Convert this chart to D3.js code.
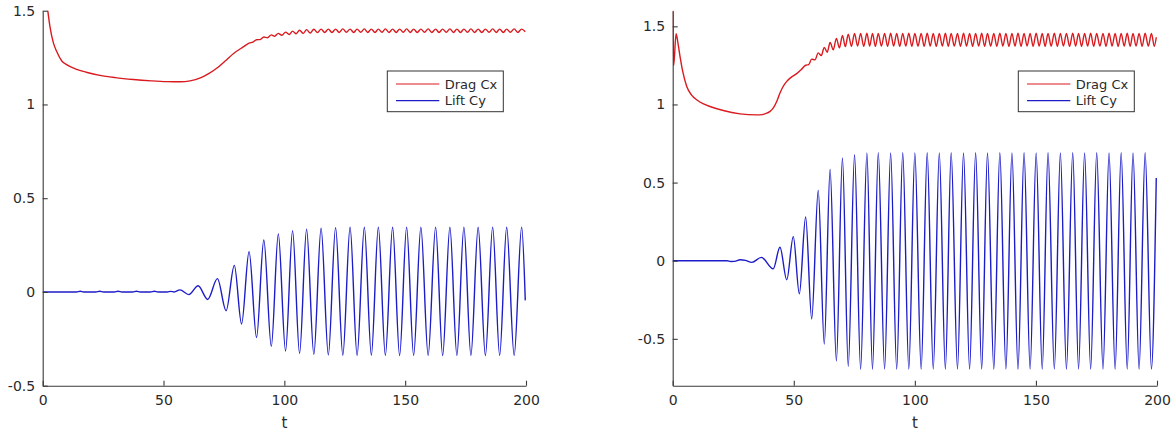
<!DOCTYPE html>
<html>
<head>
<meta charset="utf-8">
<script src="https://cdn.jsdelivr.net/npm/d3@7"></script>
<style>
  html, body { margin: 0; padding: 0; background: #fff; }
  svg { display: block; font-family: "DejaVu Sans", sans-serif; }
</style>
</head>
<body>
<svg id="chart" width="1172" height="433"></svg>
<script>
// Force coefficients over time for two flow cases: [t, value] samples at turning points.
const xTicks = [0, 50, 100, 150, 200];
const yTicks = [-0.5, 0, 0.5, 1, 1.5];
const legendLabels = ["Drag Cx", "Lift Cy"];

const dragLeft = [[0,1.85],[1.2,1.6],[2.1,1.5],[3,1.415],[4.4,1.33],[5.8,1.282],[7.9,1.232],[9.9,1.212],[14,1.187],[18,1.172],[23.7,1.155],[30,1.143],[37.5,1.133],[45,1.126],[51.3,1.122],[57,1.121],[61,1.126],[65,1.14],[68.5,1.163],[72,1.193],[75.5,1.232],[79,1.272],[83,1.307],[85.4,1.327],[87,1.333],[88.5,1.345],[90,1.346],[91.5,1.36],[93,1.356],[94.6,1.371],[96,1.364],[97.5,1.379],[99,1.369],[100.5,1.386],[102,1.373],[103.4,1.391],[104.9,1.377],[106.3,1.396],[107.8,1.379],[109.2,1.399],[110.7,1.381],[112.2,1.401],[113.7,1.383],[115.2,1.402],[116.7,1.384],[118.2,1.402],[119.7,1.384],[121.2,1.402],[122.7,1.384],[124.2,1.403],[125.7,1.385],[127.2,1.402],[128.7,1.384],[130.1,1.402],[131.6,1.385],[133.1,1.403],[134.5,1.384],[136.0,1.402],[137.5,1.384],[138.9,1.402],[140.4,1.385],[141.8,1.403],[143.3,1.384],[144.8,1.402],[146.3,1.384],[147.7,1.402],[149.2,1.385],[150.6,1.403],[152.1,1.384],[153.5,1.402],[155.0,1.384],[156.5,1.402],[158.0,1.385],[159.5,1.403],[161.0,1.384],[162.6,1.402],[164.0,1.384],[165.5,1.402],[167.0,1.385],[168.5,1.403],[170.0,1.384],[171.4,1.402],[172.9,1.384],[174.3,1.402],[175.8,1.385],[177.2,1.403],[178.7,1.384],[180.2,1.402],[181.7,1.384],[183.2,1.402],[184.7,1.385],[186.2,1.403],[187.7,1.384],[189.1,1.402],[190.6,1.384],[192.0,1.402],[193.5,1.385],[195.1,1.403],[196.6,1.384],[198.2,1.402],[199.7,1.388]];

const liftLeft = [[0,0],[14,0],[15.5,0.004],[17,0],[22,0],[23.6,0.004],[25.2,0],[29.6,0],[31.2,0.004],[32.8,0],[37.2,0],[38.8,0.004],[40.4,0],[44.6,0],[46.2,0.004],[47.8,0],[51.5,0],[53,0.003],[54.4,0],[56.8,0.011],[60.5,-0.014],[64.3,0.033],[68.3,-0.04],[72.3,0.071],[75.9,-0.1],[79.3,0.142],[82.3,-0.171],[85.4,0.215],[88.5,-0.243],[91.5,0.277],[94.6,-0.29],[97.5,0.309],[100.5,-0.315],[103.4,0.327],[106.3,-0.328],[109.2,0.335],[112.2,-0.333],[115.2,0.34],[118.2,-0.336],[121.2,0.343],[124.2,-0.337],[127.2,0.345],[130.1,-0.338],[133.1,0.345],[136.0,-0.337],[138.9,0.346],[141.8,-0.338],[144.8,0.345],[147.7,-0.339],[150.6,0.346],[153.5,-0.338],[156.5,0.345],[159.5,-0.338],[162.6,0.346],[165.5,-0.339],[168.5,0.345],[171.4,-0.338],[174.3,0.346],[177.2,-0.338],[180.2,0.345],[183.2,-0.339],[186.2,0.346],[189.1,-0.338],[192.0,0.345],[195.1,-0.338],[198.2,0.346],[199.7,-0.045]];

const dragRight = [[0,1.66],[0.4,1.25],[1.4,1.452],[2.2,1.39],[3,1.31],[4.3,1.2],[5.8,1.115],[7.8,1.06],[9.9,1.03],[12.5,1.005],[15.4,0.987],[20.9,0.961],[27.8,0.94],[34.7,0.933],[37,0.935],[38.8,0.944],[40.2,0.956],[41.5,0.976],[43,1.02],[44.3,1.073],[45.6,1.115],[47.1,1.148],[49,1.175],[51.2,1.197],[53,1.222],[54.9,1.251],[56.15,1.255],[57.4,1.29],[58.75,1.285],[60.1,1.33],[61.35,1.313],[62.6,1.365],[63.8,1.334],[65.0,1.397],[66.3,1.35],[67.6,1.423],[68.85,1.362],[70.1,1.442],[71.3,1.37],[72.5,1.45],[73.8,1.372],[75.1,1.455],[76.35,1.373],[77.6,1.455],[78.9,1.372],[80.2,1.456],[81.35,1.373],[82.5,1.455],[83.7,1.372],[84.9,1.455],[86.2,1.373],[87.5,1.455],[88.75,1.372],[90.0,1.456],[91.25,1.373],[92.5,1.455],[93.75,1.372],[95.0,1.455],[96.25,1.373],[97.5,1.456],[98.75,1.372],[100.0,1.455],[101.3,1.373],[102.6,1.455],[103.85,1.372],[105.1,1.456],[106.35,1.373],[107.6,1.455],[108.85,1.372],[110.1,1.455],[111.35,1.373],[112.6,1.456],[113.8,1.372],[115.0,1.455],[116.3,1.373],[117.6,1.455],[118.85,1.372],[120.1,1.456],[121.35,1.373],[122.6,1.455],[123.85,1.372],[125.1,1.455],[126.35,1.373],[127.6,1.456],[128.8,1.372],[130.0,1.455],[131.3,1.373],[132.6,1.455],[133.85,1.372],[135.1,1.456],[136.35,1.373],[137.6,1.455],[138.85,1.372],[140.1,1.455],[141.35,1.373],[142.6,1.456],[143.85,1.372],[145.1,1.455],[146.35,1.373],[147.6,1.455],[148.85,1.372],[150.1,1.456],[151.35,1.373],[152.6,1.455],[153.8,1.372],[155.0,1.455],[156.3,1.373],[157.6,1.456],[158.85,1.372],[160.1,1.455],[161.35,1.373],[162.6,1.455],[163.9,1.372],[165.2,1.456],[166.4,1.373],[167.6,1.455],[168.85,1.372],[170.1,1.455],[171.35,1.373],[172.6,1.456],[173.85,1.372],[175.1,1.455],[176.4,1.373],[177.7,1.455],[178.95,1.372],[180.2,1.456],[181.45,1.373],[182.7,1.455],[183.95,1.372],[185.2,1.455],[186.45,1.373],[187.7,1.456],[188.9,1.372],[190.1,1.455],[191.35,1.373],[192.6,1.455],[193.85,1.372],[195.1,1.456],[196.4,1.373],[197.7,1.455],[198.9,1.372],[199.7,1.43]];

const liftRight = [[0,0],[22.4,0],[24,-0.005],[25.5,-0.004],[27.9,0.006],[30,0.002],[32.7,-0.011],[36.6,0.021],[41.5,-0.052],[44.3,0.086],[47.1,-0.122],[49.8,0.154],[52.3,-0.212],[54.9,0.28],[57.4,-0.372],[60.1,0.45],[62.6,-0.533],[65.0,0.584],[67.6,-0.641],[70.1,0.658],[72.5,-0.676],[75.1,0.678],[77.6,-0.695],[80.2,0.69],[82.5,-0.695],[84.9,0.692],[87.5,-0.693],[90.0,0.69],[92.5,-0.694],[95.0,0.691],[97.5,-0.693],[100.0,0.69],[102.6,-0.694],[105.1,0.691],[107.6,-0.693],[110.1,0.69],[112.6,-0.694],[115.0,0.691],[117.6,-0.693],[120.1,0.69],[122.6,-0.694],[125.1,0.691],[127.6,-0.693],[130.0,0.69],[132.6,-0.694],[135.1,0.691],[137.6,-0.693],[140.1,0.69],[142.6,-0.694],[145.1,0.691],[147.6,-0.693],[150.1,0.69],[152.6,-0.694],[155.0,0.691],[157.6,-0.693],[160.1,0.69],[162.6,-0.694],[165.2,0.691],[167.6,-0.693],[170.1,0.69],[172.6,-0.694],[175.1,0.691],[177.7,-0.693],[180.2,0.69],[182.7,-0.694],[185.2,0.691],[187.7,-0.693],[190.1,0.69],[192.6,-0.694],[195.1,0.691],[197.7,-0.693],[199.7,0.53]];

const DRAG_COLOR = "#d91a1f";
const LIFT_COLOR = "#1c1cc8";
const AXIS_COLOR = "#3a3a3a";
const TEXT_COLOR = "#2a2a2a";

const svg = d3.select("#chart");

const panels = [
  { id: "a", left: 42.7, right: 526, top: 10.7, bottom: 385.7, yDomain: [-0.5, 1.5], drag: dragLeft, lift: liftLeft },
  { id: "b", left: 672.7, right: 1157, top: 10.7, bottom: 385.7, yDomain: [-0.8, 1.6], drag: dragRight, lift: liftRight }
];

panels.forEach(p => {
  const x = d3.scaleLinear().domain([0, 200]).range([p.left, p.right]);
  const y = d3.scaleLinear().domain(p.yDomain).range([p.bottom, p.top]);
  const g = svg.append("g");

  g.append("clipPath").attr("id", "clip-" + p.id)
    .append("rect")
    .attr("x", p.left).attr("y", p.top)
    .attr("width", p.right - p.left).attr("height", p.bottom - p.top);

  const line = d3.line()
    .x(d => x(d[0]))
    .y(d => y(d[1]))
    .curve(d3.curveMonotoneX);

  const plot = g.append("g").attr("clip-path", `url(#clip-${p.id})`);
  plot.append("path").datum(p.drag)
    .attr("d", line).attr("fill", "none")
    .attr("stroke", DRAG_COLOR).attr("stroke-width", 1.4);
  plot.append("path").datum(p.lift)
    .attr("d", line).attr("fill", "none")
    .attr("stroke", LIFT_COLOR).attr("stroke-width", 1.4);

  // bottom axis with inward ticks
  const xAxis = g.append("g").attr("transform", `translate(0,${p.bottom})`)
    .call(d3.axisBottom(x).tickValues(xTicks).tickSizeInner(-5).tickSizeOuter(0).tickPadding(12).tickFormat(d3.format("d")));
  // left axis with inward ticks
  const yAxis = g.append("g").attr("transform", `translate(${p.left},0)`)
    .call(d3.axisLeft(y).tickValues(yTicks).tickSizeInner(-5).tickSizeOuter(0).tickPadding(12).tickFormat(d => String(d)));

  [xAxis, yAxis].forEach(ax => {
    ax.select(".domain").attr("stroke", AXIS_COLOR).attr("stroke-width", 1.1);
    ax.selectAll(".tick line").attr("stroke", AXIS_COLOR).attr("stroke-width", 1.1);
    ax.selectAll(".tick text").attr("fill", TEXT_COLOR)
      .style("font-family", "'DejaVu Sans', sans-serif").style("font-size", "14px");
  });
  yAxis.selectAll(".tick text").attr("x", -7.5);
  xAxis.selectAll(".tick text").attr("y", 9);

  g.append("text")
    .attr("x", x(100)).attr("y", p.bottom + 42)
    .attr("text-anchor", "middle")
    .attr("fill", TEXT_COLOR)
    .style("font-size", "15px")
    .text("t");

  // legend
  const lg = g.append("g").attr("transform", `translate(${p.right - 138.7},${p.top + 60.3})`);
  lg.append("rect").attr("x", 0).attr("y", 0).attr("width", 116).attr("height", 40.7)
    .attr("fill", "#fff").attr("stroke", "#333").attr("stroke-width", 1);
  legendLabels.forEach((lab, i) => {
    const cy = 13 + i * 16.7;
    lg.append("line").attr("x1", 8.7).attr("x2", 52).attr("y1", cy).attr("y2", cy)
      .attr("stroke", i === 0 ? DRAG_COLOR : LIFT_COLOR).attr("stroke-width", 1.2);
    lg.append("text").attr("x", 57.4).attr("y", cy).attr("dy", "0.35em")
      .attr("fill", TEXT_COLOR).style("font-size", "13px").text(lab);
  });
});
</script>
</body>
</html>
